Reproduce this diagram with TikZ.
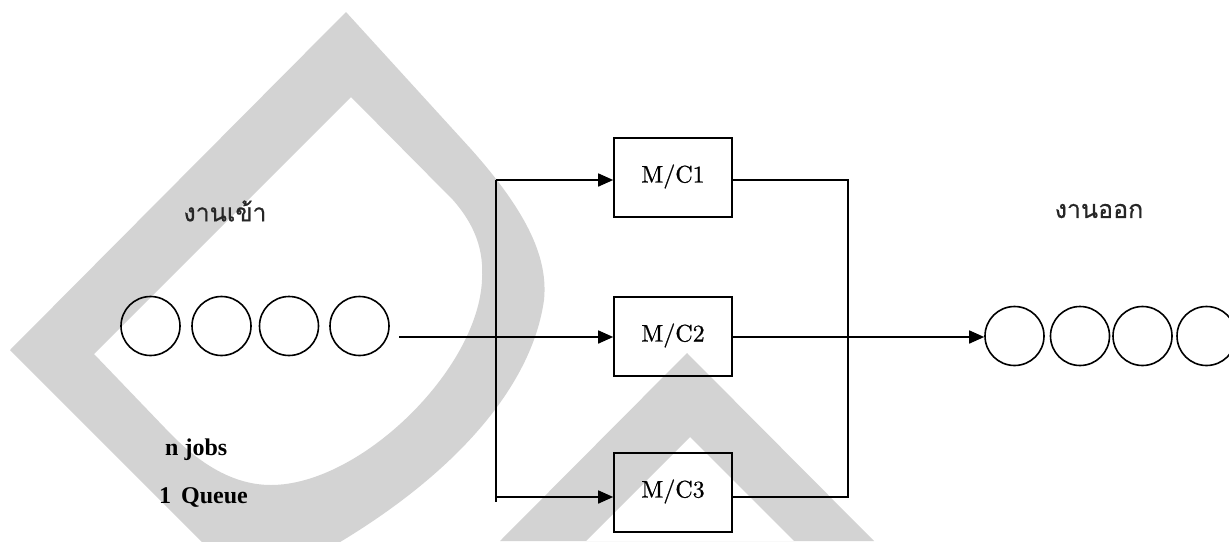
\documentclass[tikz,border=0pt]{standalone}
\usepackage{fontspec}
\usetikzlibrary{arrows.meta}
\newfontfamily\thaifont[Script=Thai,FakeBold=0.6]{Loma}
\newfontfamily\labelfont{Liberation Serif}
\newfontfamily\boxfont[FakeBold=0.8]{lmroman10-regular.otf}
\definecolor{wmgray}{RGB}{211,211,211}
\tikzset{
  job/.style={circle, draw, line width=1.6pt, minimum size=59pt, inner sep=0pt},
  machine/.style={draw, line width=1.6pt, minimum width=118pt, minimum height=79pt,
    inner sep=0pt, text depth=8pt, font=\boxfont\fontsize{24}{28}\selectfont},
  wire/.style={line width=1.6pt},
  arr/.style={wire, -{Triangle[length=15pt,width=13pt]}},
  thailabel/.style={font=\thaifont\fontsize{25}{29}\selectfont, text=black!85},
  notelabel/.style={font=\labelfont\bfseries\fontsize{24}{28}\selectfont, anchor=west, inner sep=0pt},
  wmshape/.style={fill=wmgray, even odd rule}
}
\begin{document}
\begin{tikzpicture}[x=1pt,y=-1pt]
  \useasboundingbox (0,0) rectangle (1229,541);
  \clip (0,0) rectangle (1229,541);
  % background marks
  \fill[wmshape]
    (10,350) -- (346,12) -- (470,148)
      .. controls (530,215) and (548,260) .. (544,300)
      .. controls (530,400) and (430,500) .. (280,575)
      .. controls (250,585) and (220,562) .. (200,540) -- cycle
    (94,354) -- (351,97) -- (453,200)
      .. controls (475,225) and (484,250) .. (482,280)
      .. controls (478,370) and (360,485) .. (271,485)
      .. controls (230,485) and (195,460) .. (165,428) -- cycle;
  \fill[wmshape]
    (687,353) -- (500,541) -- (874,541) -- cycle
    (690,437) -- (586,541) -- (794,541) -- cycle;

  % incoming jobs
  \node[job] (q1) at (150.5,326) {};
  \node[job] (q2) at (221.5,326) {};
  \node[job] (q3) at (289,326) {};
  \node[job] (q4) at (359.5,326) {};
  \node[thailabel] (inlab) at (225,211) {งานเข้า};
  \node[notelabel] (jobs) at (165,450) {n jobs};
  \node[notelabel] (queue) at (159,497) {1\, Queue};

  % machines
  \node[machine] (mc1) at (673,177.5) {M/C1};
  \node[machine] (mc2) at (673,336.5) {M/C2};
  \node[machine] (mc3) at (673,492.5) {M/C3};

  % outgoing jobs
  \node[job] (o1) at (1014.5,336) {};
  \node[job] (o2) at (1080,336) {};
  \node[job] (o3) at (1142.5,336) {};
  \node[job] (o4) at (1206.5,336) {};
  \node[thailabel] (outlab) at (1099,211) {งานออก};

  % routing points
  \coordinate (src) at (399,337);
  \coordinate (bt) at (496,180);
  \coordinate (bb) at (496,502);
  \coordinate (b3) at (496,497);
  \coordinate (rt) at (848,180);
  \coordinate (rb) at (848,497);

  % split to the machines
  \draw[arr] (src) -- (src -| mc2.west);
  \draw[wire] (bt) -- (bb);
  \draw[arr] (bt) -- (bt -| mc1.west);
  \draw[arr] (b3) -- (b3 -| mc3.west);

  % merge to the output queue
  \draw[wire] (rt -| mc1.east) -- (rt) -- (rb) -- (rb -| mc3.east);
  \draw[arr] (src -| mc2.east) -- (src -| o1.west);
\end{tikzpicture}
\end{document}
